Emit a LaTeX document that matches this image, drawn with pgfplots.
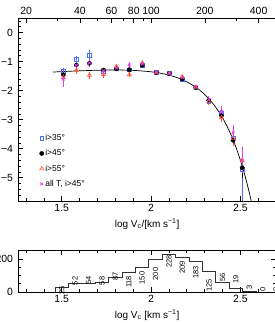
\documentclass[border=0pt]{standalone}
\usepackage{fontspec}
\setmainfont{Liberation Sans}
\usepackage{pgfplots}
\pgfplotsset{compat=1.18}
\usepackage{pgfplotstable}

\definecolor{cblue}{RGB}{70,110,255}
\definecolor{cred}{RGB}{255,80,50}
\definecolor{cmag}{RGB}{235,60,235}
\definecolor{chist}{RGB}{50,50,50}

\pgfplotsset{smalllegend/.style={legend image code/.code={\draw[##1] plot coordinates {(0.12cm,0cm)};}}}

% x y ep em
\pgfplotstableread{
x y ep em
1.509 -1.33 0.12 0.12
1.582 -0.93 0.12 0.12
1.655 -0.78 0.18 0.18
1.733 -1.33 0.08 0.08
1.806 -1.25 0.06 0.06
1.878 -1.28 0.06 0.06
1.951 -1.14 0.05 0.05
2.029 -1.38 0.04 0.04
2.102 -1.41 0.04 0.04
2.174 -1.62 0.05 0.05
2.250 -1.90 0.05 0.05
2.323 -2.36 0.07 0.07
2.394 -2.78 0.12 0.12
2.459 -3.62 0.20 0.20
2.510 -4.72 0.25 1.50
}\tblue
\pgfplotstableread{
x y ep em
1.509 -1.45 0.10 0.10
1.582 -1.12 0.08 0.08
1.655 -1.06 0.10 0.10
1.733 -1.29 0.07 0.07
1.806 -1.25 0.05 0.05
1.878 -1.28 0.05 0.05
1.951 -1.13 0.05 0.05
2.029 -1.38 0.04 0.04
2.102 -1.41 0.04 0.04
2.174 -1.60 0.05 0.05
2.250 -1.89 0.05 0.05
2.323 -2.33 0.07 0.07
2.394 -2.86 0.12 0.12
2.459 -3.71 0.20 0.20
2.510 -4.65 0.35 0.35
}\tblack
\pgfplotstableread{
x y ep em
1.509 -1.55 0.20 0.20
1.582 -1.30 0.12 0.12
1.655 -1.47 0.12 0.12
1.733 -1.45 0.10 0.10
1.806 -1.17 0.07 0.07
1.878 -1.45 0.08 0.08
1.951 -1.05 0.07 0.07
2.029 -1.38 0.05 0.05
2.102 -1.41 0.05 0.05
2.174 -1.52 0.06 0.06
2.250 -1.88 0.07 0.07
2.323 -2.38 0.10 0.10
2.394 -2.93 0.15 0.15
2.459 -3.65 0.25 0.25
2.510 -4.40 0.40 0.40
}\tred
\pgfplotstableread{
x y ep em
1.509 -1.60 0.26 0.26
1.582 -1.13 0.12 0.12
1.655 -1.05 0.15 0.15
1.733 -1.32 0.10 0.10
1.806 -1.22 0.08 0.08
1.878 -1.12 0.10 0.10
1.951 -1.08 0.07 0.07
2.029 -1.36 0.05 0.05
2.102 -1.40 0.05 0.05
2.174 -1.55 0.07 0.07
2.250 -1.86 0.07 0.07
2.323 -2.30 0.10 0.10
2.394 -2.72 0.18 0.18
2.459 -3.45 0.25 0.25
2.510 -4.40 0.45 0.45
}\tmag
\pgfplotstableread{
x y
1.4625 0
1.4625 25
1.5375 52
1.6125 54
1.6875 58
1.7625 87
1.8375 118
1.9125 150
1.9875 200
2.0625 228
2.1375 209
2.2125 183
2.2875 125
2.3625 56
2.4375 19
2.5125 3
2.5875 0
2.6625 0
2.7375 0
}\thist
\pgfplotstableread{
x y lab
1.500 12 25
1.575 67 52
1.650 71 54
1.725 67 58
1.800 97 87
1.875 61 118
1.950 85 150
2.025 109 200
2.100 184 228
2.175 148 209
2.250 118 183
2.325 41 125
2.400 86 56
2.475 74 19
2.550 30 3
2.625 13 0
2.700 13 0
}\tlab

\begin{document}
\begin{tikzpicture}
\pgfplotsset{
  common/.style={
    scale only axis, width=258.1bp,
    xmin=1.255, xmax=2.7,
    tick align=inside,
    major tick length=5bp, minor tick length=2.8bp,
    every tick/.style={black, line width=0.6bp},
    axis line style={line width=0.8bp},
    /pgf/number format/assume math mode=true,
    ticklabel style={font=\fontsize{10.5}{12}\selectfont},
    label style={font=\fontsize{10}{12}\selectfont},
    yticklabel style={xshift=-1.5bp},
  }
}
% main panel
\begin{axis}[common,
  at={(18bp,122bp)}, anchor=south west, height=183bp,
  ymin=-5.8, ymax=0.5,
  xtick pos=bottom, ytick pos=left,
  xtick={1.5,2,2.5}, xticklabels={1.5,2,2.5},
  minor xtick={1.3,1.4,1.6,1.7,1.8,1.9,2.1,2.2,2.3,2.4,2.6,2.7},
  ytick={0,-1,-2,-3,-4,-5}, yticklabels={0,−1,−2,−3,−4,−5},
  minor ytick={0.4,0.2,-0.2,-0.4,-0.6,-0.8,-1.2,-1.4,-1.6,-1.8,-2.2,-2.4,-2.6,-2.8,-3.2,-3.4,-3.6,-3.8,-4.2,-4.4,-4.6,-4.8,-5.2,-5.4,-5.6},
  xlabel={log V\textsubscript{c}/[km s\textsuperscript{−1}]},
  legend style={draw=none, fill=none, at={(axis cs:1.375,-3.45)}, anchor=north west,
    font=\fontsize{8.5}{10}\selectfont, row sep=4.6bp, inner sep=0pt,
    nodes={inner sep=1.5bp}},
  legend cell align=left,
]
\addplot[black, line width=0.7bp, smooth, forget plot] coordinates {
(1.45,-1.361) (1.5,-1.346) (1.6,-1.319) (1.7,-1.299) (1.8,-1.291) (1.9,-1.303)
(2.0,-1.352) (2.05,-1.398) (2.1,-1.466) (2.15,-1.562) (2.2,-1.696) (2.25,-1.881)
(2.275,-1.997) (2.3,-2.133) (2.325,-2.291) (2.35,-2.475) (2.375,-2.688) (2.4,-2.936)
(2.425,-3.224) (2.45,-3.558) (2.475,-3.945) (2.5,-4.393) (2.525,-4.912) (2.55,-5.512) (2.565,-5.918)};

\addplot[cblue, only marks, mark=square, mark size=1.8bp, line width=0.7bp, smalllegend,
  error bars/.cd, y dir=both, y explicit, error mark=none,
  error bar style={line width=1bp, cblue}]
  table[x=x, y=y, y error plus=ep, y error minus=em] {\tblue};
\addlegendentry{i>35°}
\addplot[black, only marks, mark=*, mark size=2.1bp, smalllegend,
  error bars/.cd, y dir=both, y explicit, error mark=none,
  error bar style={line width=1bp, black}]
  table[x=x, y=y, y error plus=ep, y error minus=em] {\tblack};
\addlegendentry{i>45°}
\addplot[cred, only marks, mark=triangle, mark size=2.3bp, line width=0.6bp, smalllegend,
  error bars/.cd, y dir=both, y explicit, error mark=none,
  error bar style={line width=1bp, cred}]
  table[x=x, y=y, y error plus=ep, y error minus=em] {\tred};
\addlegendentry{i>55°}
\addplot[cmag, only marks, mark=x, mark size=1.9bp, line width=0.8bp, smalllegend,
  error bars/.cd, y dir=both, y explicit, error mark=none,
  error bar style={line width=1bp, cmag}]
  table[x=x, y=y, y error plus=ep, y error minus=em] {\tmag};
\addlegendentry{all T, i>45°}
\end{axis}
% top axis of main panel
\begin{axis}[common,
  at={(18bp,122bp)}, anchor=south west, height=183bp,
  ymin=-5.8, ymax=0.5,
  axis x line*=top, axis y line=none,
  xtick={1.30103,1.60206,1.77815,1.90309,2,2.30103,2.60206},
  xticklabels={20,40,60,80,100,200,400},
  minor xtick={1.47712,1.69897,1.84510,1.95424,2.47712},
]
\addplot[draw=none] coordinates {(1.5,0)};
\end{axis}
% bottom panel
\begin{axis}[common,
  at={(18bp,31bp)}, anchor=south west, height=42bp,
  ymin=0, ymax=255,
  xtick={1.5,2,2.5}, xticklabels={1.5,2,2.5},
  minor xtick={1.3,1.4,1.6,1.7,1.8,1.9,2.1,2.2,2.3,2.4,2.6,2.7},
  ytick={0,200}, yticklabels={0,200},
  minor ytick={50,100,150},
  xlabel={log V\textsubscript{c} [km s\textsuperscript{−1}]},
  nodes near coords align=center,
]
\addplot[chist, line width=0.8bp, const plot] table[x=x, y=y] {\thist};
\addplot[draw=none, mark=none, nodes near coords, point meta=explicit symbolic,
  every node near coord/.append style={rotate=90, anchor=center, inner sep=0pt,
    font=\fontsize{7.5}{8}\selectfont, text=black}]
  table[x=x, y=y, meta=lab] {\tlab};
\end{axis}
\pgfresetboundingbox
\useasboundingbox (0bp,0bp) rectangle (275bp,323bp);
\end{tikzpicture}
\end{document}
